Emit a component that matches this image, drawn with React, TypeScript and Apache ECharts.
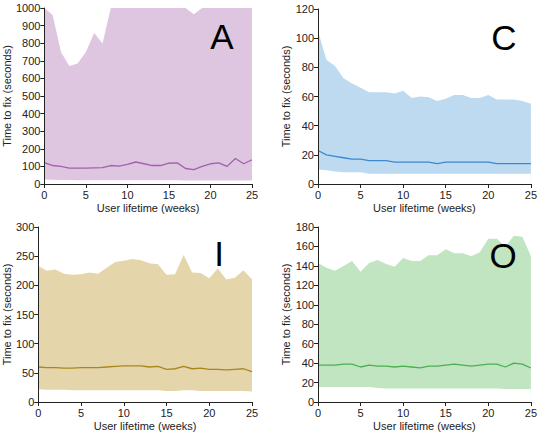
import React, { useEffect, useRef } from "react";
import * as echarts from "echarts";

const weeks = Array.from({ length: 26 }, (_, i) => i);

const aUpper = [1000, 960, 750, 670, 684, 750, 858, 798, 1000, 1000, 1000, 1000, 1000, 1000, 1000, 1000, 1000, 1000, 965, 1000, 1000, 1000, 1000, 1000, 1000, 1000];
const aLower = [25, 24, 23, 23, 22, 22, 22, 22, 22, 22, 21, 21, 21, 21, 21, 21, 21, 20, 20, 20, 20, 20, 20, 20, 20, 20];
const aMedian = [121, 105, 100, 90, 90, 90, 92, 93, 105, 102, 112, 125, 115, 105, 105, 118, 120, 88, 82, 100, 115, 120, 100, 145, 115, 138];

const cUpper = [105, 85, 81, 72.5, 69, 66, 63, 63, 63, 62, 64, 59, 60, 59.5, 57, 58.5, 61, 61, 59, 59, 61, 58, 58, 58, 57, 55];
const cLower = [10, 9.5, 8.5, 8, 8, 8, 7, 7, 7, 7, 7, 7, 7, 7, 7, 7, 7, 7, 7, 7, 7, 7, 7, 7, 7, 7];
const cMedian = [23, 20, 19, 18, 17, 17, 16, 16, 16, 15, 15, 15, 15, 15, 14, 15, 15, 15, 15, 15, 15, 14, 14, 14, 14, 14];

const iUpper = [233, 225, 227, 220, 218, 219, 222, 220, 230, 240, 242, 245, 243, 238, 236, 218, 219, 252, 222, 221, 212, 229, 210, 213, 226, 210];
const iLower = [22, 21, 21, 21, 20, 20, 20, 20, 20, 20, 20, 20, 20, 20, 20, 19, 19, 20, 20, 19, 19, 19, 19, 19, 19, 18];
const iMedian = [60, 59, 59, 58, 58, 59, 59, 59, 60, 61, 62, 62, 62, 60, 61, 56, 57, 61, 57, 58, 56, 56, 55, 56, 57, 52];

const oUpper = [143, 138, 135, 140, 145, 134, 143, 146, 142, 139, 148, 145, 145, 151, 151, 157, 153, 153, 150, 154, 168, 168, 160, 171, 170, 150];
const oLower = [15.5, 15.5, 15.5, 15.5, 15.5, 15.5, 15.5, 14.5, 14, 14, 14, 14, 14, 14, 14, 14, 14, 14, 14, 14, 14, 14, 13.5, 13.5, 13.5, 13.5];
const oMedian = [38, 38, 38, 39, 39, 36, 38, 37, 37, 36, 37, 36, 35, 37, 37, 38, 39, 38, 37, 38, 39, 39, 36, 40, 39, 35];

const panelLetters = ["A", "C", "I", "O"];
const yMax = [1000, 120, 300, 180];
const yInterval = [100, 20, 50, 20];

const FONT = "Liberation Sans, Arial, sans-serif";

export default function App() {
  const ref = useRef<HTMLDivElement>(null);
  useEffect(() => {
    const chart = echarts.init(ref.current!, undefined, { renderer: "svg" });
    const panels = [
      { upper: aUpper, lower: aLower, median: aMedian, band: "#dec6e1", line: "#a45fae", grid: { left: 37, top: 8, width: 215, height: 176 }, nameGap: 30 },
      { upper: cUpper, lower: cLower, median: cMedian, band: "#bddaf0", line: "#3d89cf", grid: { left: 318, top: 9, width: 219, height: 175 }, nameGap: 24 },
      { upper: iUpper, lower: iLower, median: iMedian, band: "#e4d5aa", line: "#a8881c", grid: { left: 33, top: 227, width: 219, height: 175 }, nameGap: 24 },
      { upper: oUpper, lower: oLower, median: oMedian, band: "#c0e5c0", line: "#4caf50", grid: { left: 318, top: 227, width: 219, height: 175 }, nameGap: 24 },
    ];
    const axisCommon = {
      axisLine: { show: true, lineStyle: { color: "#222", width: 1 } },
      axisTick: { show: true, inside: false, length: 4, lineStyle: { color: "#222" } },
      splitLine: { show: false },
      axisLabel: { color: "#222", fontSize: 11, fontFamily: FONT },
      nameTextStyle: { color: "#222", fontSize: 11, fontFamily: FONT },
    };
    const grid: any[] = [];
    const xAxis: any[] = [];
    const yAxis: any[] = [];
    const series: any[] = [];
    panels.forEach((p, k) => {
      grid.push({ ...p.grid, containLabel: false });
      xAxis.push({
        ...axisCommon,
        gridIndex: k,
        type: "value",
        min: 0,
        max: 25,
        interval: 5,
        name: "User lifetime (weeks)",
        nameLocation: "middle",
        nameGap: 18,
        z: 10,
        axisLabel: { ...axisCommon.axisLabel, margin: 5 },
      });
      yAxis.push({
        ...axisCommon,
        gridIndex: k,
        type: "value",
        min: 0,
        max: yMax[k],
        interval: yInterval[k],
        name: "Time to fix (seconds)",
        nameLocation: "middle",
        nameRotate: 90,
        nameGap: p.nameGap,
        z: 10,
        axisLabel: { ...axisCommon.axisLabel, margin: 4, formatter: (v: number) => String(v) },
      });
      series.push({
        type: "line",
        xAxisIndex: k,
        yAxisIndex: k,
        data: weeks.map((w, i) => [w, p.upper[i]]),
        showSymbol: false,
        lineStyle: { width: 0, opacity: 0 },
        areaStyle: { color: p.band, opacity: 1, origin: "start" },
        silent: true,
        z: 1,
      });
      series.push({
        type: "line",
        xAxisIndex: k,
        yAxisIndex: k,
        data: weeks.map((w, i) => [w, p.lower[i]]),
        showSymbol: false,
        lineStyle: { width: 0, opacity: 0 },
        areaStyle: { color: "#ffffff", opacity: 1, origin: "start" },
        silent: true,
        z: 2,
      });
      series.push({
        type: "line",
        xAxisIndex: k,
        yAxisIndex: k,
        data: weeks.map((w, i) => [w, p.median[i]]),
        showSymbol: false,
        lineStyle: { color: p.line, width: 1.3 },
        silent: true,
        z: 3,
      });
    });
    const letterPos = [
      { x: 222, y: 36 },
      { x: 504, y: 37 },
      { x: 219, y: 253 },
      { x: 503, y: 255 },
    ];
    const graphic = panelLetters.map((t, k) => ({
      type: "text",
      x: letterPos[k].x,
      y: letterPos[k].y,
      z: 100,
      style: {
        text: t,
        fontSize: 35,
        fontFamily: FONT,
        fill: "#000",
        align: "center",
        verticalAlign: "middle",
      },
    }));
    chart.setOption({
      animation: false,
      backgroundColor: "#fff",
      grid,
      xAxis,
      yAxis,
      series,
      graphic,
    });
    return () => chart.dispose();
  }, []);
  return (
    <div
      ref={ref}
      style={{ position: "fixed", left: 0, top: 0, width: 540, height: 433 }}
    />
  );
}
